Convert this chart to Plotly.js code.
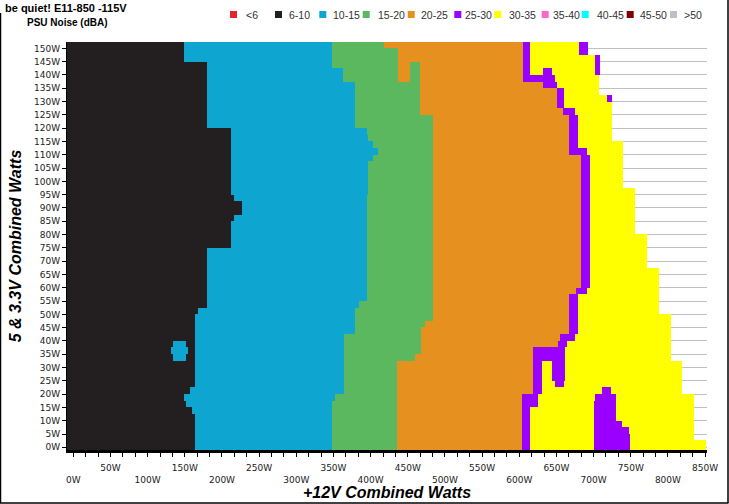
<!DOCTYPE html>
<html><head><meta charset="utf-8">
<script src="https://cdn.plot.ly/plotly-3.0.1.min.js"></script>
<style>html,body{margin:0;padding:0;background:#fff}</style>
</head><body><div id="chart" style="width:729px;height:504px"></div>
<script>
// Noise categories (dBA) and their colours
const categories = ['<6','6-10','10-15','15-20','20-25','25-30','30-35','35-40','40-45','45-50','>50'];
const catColors = ['#e3262d','#231f20','#0fa5d1','#5bb85e','#e6901f','#9900ff','#ffff00','#ff66cc','#00ffff','#800000','#c0c0c0'];

// 5V & 3.3V combined load (W): centres of the sampled load bands
const rowY = [-1.25,1.25,3.75,6.25,8.75,11.25,13.75,16.25,18.75,21.25,23.75,26.25,28.75,31.25,33.75,36.25,38.75,41.25,43.75,46.25,48.75,51.25,53.75,56.25,58.75,61.25,63.75,66.25,68.75,71.25,73.75,76.25,78.75,81.25,83.75,86.25,88.75,91.25,93.75,96.25,98.75,101.25,103.75,106.25,108.75,111.25,113.75,116.25,118.75,121.25,123.75,126.25,128.75,131.25,133.75,136.25,138.75,141.25,143.75,146.25,148.75,151.25];

// +12V load (W) where each noise zone ends, for every band in rowY
const blackEnd = [164,164,164,164,164,164,160,152,149,158, 164,164,164,164,164,164,164,164,164,164, 164,168,179.5,179.5,179.5,179.5,179.5,179.5,179.5,179.5, 179.5,212,212,212,212,216,226.6,226.6,216,212, 212,212,212,212,212,212,212,212,212,179.5, 179.5,179.5,179.5,179.5,179.5,179.5,179.5,179.5,179.5,149, 149,149];
const cyanEnd = [348.5,348.5,348.5,348.5,348.5,348.5,348.5,348.5,352,364, 364,364,364,364,364,364,364,364,379,379, 379,379,385,395,395,395,395,395,395,395, 395,395,395,395,395,395,395,395,395,397, 397,397,397,397,404,410,404,397,395,379, 379,379,379,379,379,379,363,363,348.5,348.5, 348.5,348.5];
const greenEnd = [436,436,436,436,436,436,436,436,436,436, 436,436,436,436,460,467.4,467.4,467.4,467.4,473, 484.4,484.4,484.4,484.4,484.4,484.4,484.4,484.4,484.4,484.4, 484.4,484.4,484.4,484.4,484.4,484.4,484.4,484.4,484.4,484.4, 484.4,484.4,484.4,484.4,484.4,484.4,484.4,484.4,484.4,484.4, 484.4,466.5,466.5,466.5,466.5,466.5,436.5,436.5,436.5,436.5, 436.5,419];
const orangeEnd = [603.3,603.3,603.3,603.3,603.3,603.3,603.3,603.3,603.3,619, 619,619,619,619,619,619,651.2,655,667,667, 667,667,667,667,677,683.1,683.1,683.1,683.1,683.1, 683.1,683.1,683.1,683.1,683.1,683.1,683.1,683.1,683.1,683.1, 683.1,683.1,683.1,683.1,683.1,667,667,667,667,667, 667,659,650.4,650.4,650.4,632.4,604.4,604.4,604.4,604.4, 604.4,604.4];
const purpleEnd = [614.5,614.5,614.5,614.5,614.5,614.5,614.5,625.7,625.7,630.2, 630.2,630.2,630.2,630.2,661.6,661.6,663.9,675,679.5,679.5, 679.5,679.5,679.5,679.5,691,694.3,694.3,694.3,694.3,694.3, 694.3,694.3,694.3,694.3,694.3,694.3,694.3,694.3,694.3,694.3, 694.3,694.3,694.3,694.3,694.3,690.8,679.5,679.5,679.5,679.5, 679.5,675,659.3,659.3,659.3,650.4,648,614.5,614.5,614.5, 614.5,614.5];
const yellowEnd = [851,851,835,835,835,835,835,835,835,820, 820,820,820,820,803.8,803.8,803.8,803.8,803.8,803.8, 803.8,788.5,788.5,788.5,788.5,788.5,788.5,788.5,771.5,771.5, 771.5,771.5,771.5,755.8,755.8,755.8,755.8,755.8,755.8,755.8, 740,740,740,740,740,740,740,724.4,724.4,724.4, 724.4,724.4,724.4,717.6,708,708,708,702,702,702, 681,681];
const edgePurpleEnd = [null,null,null,null,null,null,null,null,null,null, null,null,null,null,null,null,null,null,null,null, null,null,null,null,null,null,null,null,null,null, null,null,null,null,null,null,null,null,null,null, null,null,null,null,null,null,null,null,null,null, null,null,null,724.4,null,null,null,708.7,708.7,708.7, 692.5,692.5];

// Isolated patches inside other zones
const islandY     = [33.75,36.25,38.75,138.75,141.25,143.75,141.25,23.75,26.25,28.75,31.25,21.25,18.75,16.25,13.75,11.25,8.75,6.25,3.75,1.25,-1.25];
const islandStart = [135,132,135,453,453,453,632.4,648,643.7,643.7,643.7,712,702,700.6,700.6,700.6,700.6,700.6,700.6,700.6,700.6];
const islandEnd   = [152,155,152,466.5,466.5,466.5,643.7,659.3,661.6,661.6,661.6,724,730,731,731,731,738,748,750,750,750];
const islandCat   = ['10-15','10-15','10-15','15-20','15-20','15-20','25-30','25-30','25-30','25-30','25-30','25-30','25-30','25-30','25-30','25-30','25-30','25-30','25-30','25-30','25-30'];

// y ticks / x ticks
const yTickVals = [0,5,10,15,20,25,30,35,40,45,50,55,60,65,70,75,80,85,90,95,100,105,110,115,120,125,130,135,140,145,150];
const xLabelVals = [0,50,100,150,200,250,300,350,400,450,500,550,600,650,700,750,800,850];

// ---- build heatmap matrix from the boundaries ----
const cols = [];
for (let c = -8; c <= 852; c++) cols.push(c);
const idx = s => categories.indexOf(s);
const z = rowY.map((y, k) => cols.map(c => {
  if (c < blackEnd[k]) return 1;
  if (c < cyanEnd[k]) return 2;
  if (c < greenEnd[k]) return 3;
  if (c < orangeEnd[k]) return 4;
  if (c < purpleEnd[k]) return 5;
  if (c < yellowEnd[k]) return 6;
  if (edgePurpleEnd[k] !== null && c < edgePurpleEnd[k]) return 5;
  return null;
}));
islandY.forEach((y, i) => {
  const k = rowY.indexOf(y);
  cols.forEach((c, j) => {
    if (c >= islandStart[i] && c < islandEnd[i]) z[k][j] = idx(islandCat[i]);
  });
});
const n = categories.length;
const colorscale = [];
catColors.forEach((col, i) => { colorscale.push([i / n, col]); colorscale.push([(i + 1) / n, col]); });

// x ticks every 50/3 W, labels alternating on two rows
const xTickVals = [], xTickText = [];
for (let i = 0; i <= 51; i++) {
  const v = i * 50 / 3;
  xTickVals.push(v);
  if (i % 3 === 0) {
    const m = i / 3;
    const lab = xLabelVals[m] + 'W';
    xTickText.push(m % 2 === 1 ? lab : '<br>' + lab);
  } else xTickText.push('');
}

const W = 729, H = 504, ML = 67, MR = 22, MT = 42, MB = 54;
const PW = W - ML - MR, PH = H - MT - MB;
const px = x => (x - ML) / PW;
const py = y => (H - MB - y) / PH;

const annotations = [];
const shapes = [];
// manual legend (layout positions, px)
const legSq = [230,275,319.3,362.7,407.7,454.3,494.3,541.7,581.7,626.7,670];
const legTx = [245,288.3,332.3,376.7,420,464,507.7,551.7,596,639.3,682.7];
categories.forEach((cat, i) => {
  shapes.push({type:'rect', xref:'paper', yref:'paper', x0:px(legSq[i]), x1:px(legSq[i]+7), y0:py(18), y1:py(11), fillcolor:catColors[i], line:{width:0}});
  annotations.push({xref:'paper', yref:'paper', x:px(legTx[i]-1), y:py(14.5), xanchor:'left', yanchor:'middle', showarrow:false, text:cat, font:{family:'Liberation Sans, Arial', size:10.5, color:'#333'}});
});
annotations.push({xref:'paper', yref:'paper', x:px(25), y:py(23), xanchor:'left', yanchor:'middle', showarrow:false, text:'<b>PSU Noise (dBA)</b>', font:{family:'Liberation Sans, Arial', size:10, color:'#000'}});
// outer frame
shapes.push({type:'line', xref:'paper', yref:'paper', x0:px(0.5), x1:px(0.5), y0:py(13), y1:py(503), line:{color:'#000', width:1.5}});
shapes.push({type:'line', xref:'paper', yref:'paper', x0:px(0), x1:px(728.5), y0:py(503), y1:py(503), line:{color:'#000', width:1.5}});
shapes.push({type:'line', xref:'paper', yref:'paper', x0:px(728), x1:px(728), y0:py(0), y1:py(503), line:{color:'#000', width:1.5}});

const data = [{
  type:'heatmap', x: cols, y: rowY, z: z,
  zmin:-0.5, zmax:n-0.5, colorscale: colorscale, showscale:false, hoverinfo:'skip', zsmooth:false
}];

const tickFont = {family:'DejaVu Sans', size:9, color:'#222'};
const layout = {
  width:W, height:H,
  margin:{l:ML, r:MR, t:MT, b:MB, pad:0},
  paper_bgcolor:'#fff', plot_bgcolor:'#fff',
  showlegend:false,
  title:{text:'<b>be quiet! E11-850 -115V</b>', xref:'container', yref:'container', x:5/W, xanchor:'left', y:1-8/H, yanchor:'middle', font:{family:'Liberation Sans, Arial', size:11, color:'#000'}},
  xaxis:{range:[-8.5, 852.6], tickmode:'array', tickvals:xTickVals, ticktext:xTickText, ticks:'outside', ticklen:4, tickwidth:1, tickcolor:'#000',
    showline:true, linecolor:'#000', linewidth:3, showgrid:false, zeroline:false, tickfont:tickFont, ticklabelstandoff:3, automargin:false, fixedrange:true,
    title:{text:'<b><i>+12V Combined Watts</i></b>', font:{family:'Liberation Sans, Arial', size:16, color:'#000'}, standoff:3}},
  yaxis:{range:[-1.0, 152.4], tickmode:'array', tickvals:yTickVals, ticktext:yTickVals.map(v => v + 'W'), ticks:'outside', ticklen:4, tickwidth:1, tickcolor:'#000',
    showline:true, linecolor:'#000', linewidth:1, showgrid:true, gridcolor:'#c0c0c0', gridwidth:1, zeroline:false, tickfont:tickFont, automargin:false, fixedrange:true,
    title:{text:'<b><i>5 & 3.3V Combined Watts</i></b>', font:{family:'Liberation Sans, Arial', size:16, color:'#000'}, standoff:8}},
  annotations: annotations,
  shapes: shapes
};
Plotly.newPlot('chart', data, layout, {staticPlot:true, displayModeBar:false});
</script></body></html>
